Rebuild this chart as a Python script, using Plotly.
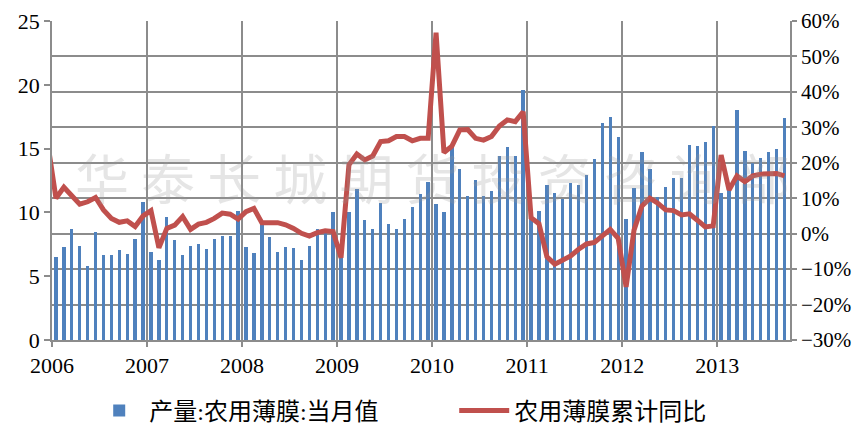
import plotly.graph_objects as go

# ---- data ----
years = ["2006", "2007", "2008", "2009", "2010", "2011", "2012", "2013"]
months = [f"{y}-{m:02d}" for y in years for m in range(1, 13)][:93]

output_film = [
    6.48, 7.26, 8.67, 7.37, 5.80, 8.49, 6.66, 6.66, 7.02, 6.75, 7.90, 10.80,
    6.88, 6.30, 9.61, 7.81, 6.69, 7.39, 7.50, 7.11, 7.92, 8.18, 8.18, 10.11,
    7.27, 6.79, 9.19, 8.07, 6.90, 7.29, 7.18, 6.27, 7.39, 8.67, 8.67, 10.01,
    6.50, 10.01, 11.81, 9.40, 8.67, 10.71, 9.09, 8.67, 9.48, 10.40, 11.42, 12.41,
    10.66, 10.01, 15.10, 13.40, 11.31, 12.51, 11.31, 11.70, 14.39, 15.10, 14.45, 19.59,
    9.60, 10.13, 12.12, 11.52, 11.02, 12.33, 12.12, 12.93, 14.21, 17.01, 17.50, 15.91,
    9.45, 11.91, 14.73, 13.43, 11.18, 12.02, 12.70, 12.70, 15.31, 15.23, 15.49, 16.80,
    11.49, 11.80, 18.00, 14.84, 13.85, 14.26, 14.76, 14.97, 17.42,
]

# cumulative YoY (%), series begins Dec 2005 (clipped at axis start)
yoy_months = ["2005-12"] + months
yoy_pct = [
    25.0,
    10.0, 13.1, 10.9, 8.3, 9.0, 10.2, 6.7, 4.3, 3.2, 3.6, 2.0, 5.0,
    6.5, -4.0, 1.5, 2.4, 4.8, 1.2, 2.7, 3.2, 4.3, 5.8, 5.5, 4.1,
    6.2, 7.1, 3.1, 3.1, 3.1, 2.5, 1.5, 0.1, -0.7, 0.3, 0.8, 0.6,
    -6.8, 19.4, 22.5, 20.8, 21.9, 26.0, 26.2, 27.4, 27.4, 26.2, 26.9, 26.9,
    56.7, 22.9, 24.7, 29.3, 29.4, 26.9, 26.4, 27.4, 30.4, 32.1, 31.6, 34.4,
    4.5, 2.8, -6.5, -8.6, -7.4, -6.3, -4.4, -2.9, -2.5, -0.7, 1.2, -1.3,
    -15.0, 1.0, 7.8, 10.0, 8.6, 6.7, 6.5, 5.3, 5.6, 3.8, 1.9, 2.2,
    22.2, 12.3, 16.3, 14.7, 16.3, 16.8, 16.8, 17.0, 16.3,
]

bar_name = "产量:农用薄膜:当月值"
line_name = "农用薄膜累计同比"
watermark = "华泰长城期货投资咨询部"

# month index positions (Jan 2006 = 0)
def idx(label):
    y, m = label.split("-")
    return (int(y) - 2006) * 12 + int(m) - 1

bar_x = [idx(m) for m in months]
line_x = [idx(m) for m in yoy_months]
line_y = [v / 100 for v in yoy_pct]

FONT = "Liberation Serif, Times New Roman, Noto Sans CJK SC, serif"
GRID = "#8c8c8c"

fig = go.Figure()
fig.add_trace(go.Bar(
    x=bar_x, y=output_film, name=bar_name, width=0.42,
    marker=dict(color="#4F81BD", line=dict(width=0)),
    hovertext=months,
))
fig.add_trace(go.Scatter(
    x=line_x, y=line_y, name=line_name, yaxis="y2", mode="lines",
    line=dict(color="#C0504D", width=5),
    hovertext=yoy_months,
))

tickvals = [12 * i - 0.5 for i in range(len(years))]

# page body adds an 8px offset, so the figure is sized 853x420
fig.update_layout(
    width=853, height=420,
    margin=dict(l=44, r=71, t=13, b=88, autoexpand=False),
    paper_bgcolor="white", plot_bgcolor="white",
    font=dict(family=FONT, size=22, color="black"),
    bargap=0,
    showlegend=True,
    legend=dict(
        orientation="h", x=0.545, xanchor="center", y=-0.2226, yanchor="middle",
        font=dict(family=FONT, size=24), entrywidth=300, itemwidth=50,
        traceorder="normal",
    ),
    xaxis=dict(
        range=[-0.5, 92.7], tickmode="array", tickvals=tickvals, ticktext=years,
        showgrid=True, gridcolor=GRID, gridwidth=1.5,
        showline=True, linecolor=GRID, linewidth=1.5,
        ticks="outside", ticklen=5, tickcolor=GRID, tickwidth=1.5,
        zeroline=False, mirror=False, automargin=False,
        tickfont=dict(family=FONT, size=22),
    ),
    yaxis=dict(
        range=[0, 25], dtick=5, tick0=0, showgrid=False,
        showline=True, linecolor=GRID, linewidth=1.5,
        ticks="outside", ticklen=6, tickcolor=GRID, tickwidth=1.5,
        zeroline=False, automargin=False, tickfont=dict(family=FONT, size=22),
    ),
    yaxis2=dict(
        overlaying="y", side="right", range=[-0.3, 0.6], dtick=0.1, tick0=-0.3,
        tickformat=".0%", showgrid=True, gridcolor=GRID, gridwidth=1.5,
        showline=True, linecolor=GRID, linewidth=1.5,
        ticks="outside", ticklen=5, tickcolor=GRID, tickwidth=1.5,
        zeroline=False, automargin=False, tickfont=dict(family=FONT, size=21),
    ),
    annotations=[dict(
        text=" ".join(watermark), xref="paper", yref="paper",
        x=0.515, y=0.514, xanchor="center", yanchor="middle", showarrow=False,
        font=dict(family="Noto Sans CJK SC", size=54, color="rgba(150,150,150,0.25)"),
    )],
)

fig.write_html("out.html")
